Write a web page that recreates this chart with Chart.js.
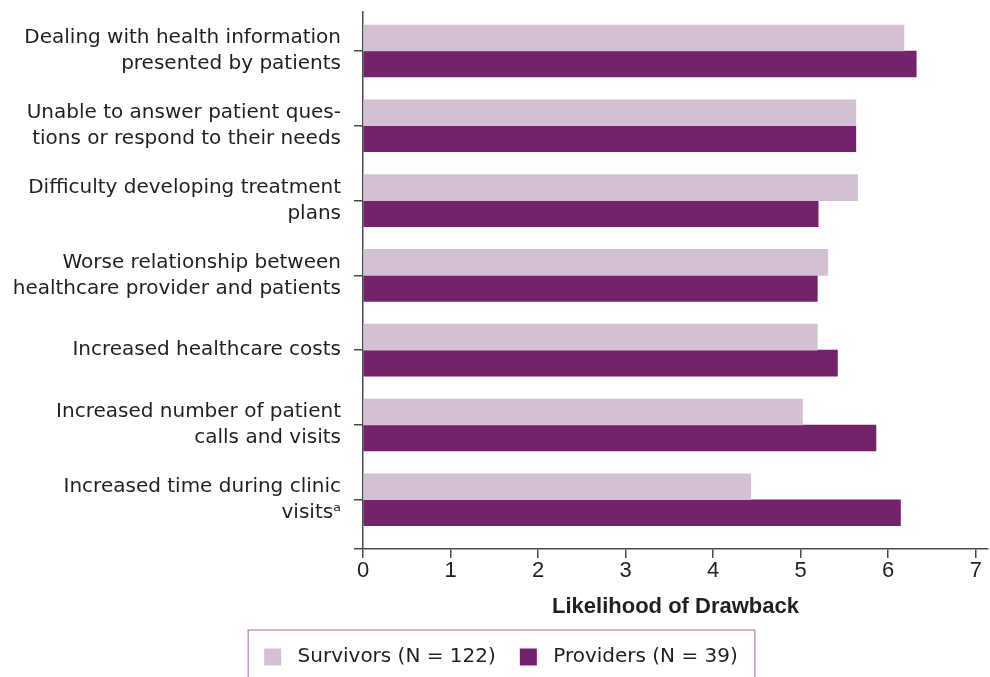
<!DOCTYPE html>
<html>
<head>
<meta charset="utf-8">
<script src="https://cdn.jsdelivr.net/npm/chart.js@4.4.1/dist/chart.umd.min.js"></script>
<style>
  body { margin: 0; background: #fff; }
  canvas { display: block; }
</style>
</head>
<body>
<canvas id="drawback-chart" width="990" height="677"></canvas>
<script>
// categories, top to bottom
const drawbacks = [
  ['Dealing with health information', 'presented by patients'],
  ['Unable to answer patient ques-', 'tions or respond to their needs'],
  ['Difficulty developing treatment', 'plans'],
  ['Worse relationship between', 'healthcare provider and patients'],
  ['Increased healthcare costs'],
  ['Increased number of patient', 'calls and visits'],
  ['Increased time during clinic', 'visits\u1D43']
];
const survivors = [6.18, 5.63, 5.65, 5.31, 5.19, 5.02, 4.43];
const providers = [6.32, 5.63, 5.20, 5.19, 5.42, 5.86, 6.14];
const xTicks = [0, 1, 2, 3, 4, 5, 6, 7];

const seriesNames = ['Survivors (N = 122)', 'Providers (N = 39)'];
const lightPurple = '#d3c0d2';
const darkPurple = '#74226b';
const ink = '#231f20';
const axisGrey = '#4a4a4a';

const Y_MIN = -0.521;
const Y_MAX = 6.658;

const toPoints = (vals) => vals.map((v, i) => ({ x: v, y: i }));

// box round the legend, open at the bottom like the original
const legendFrame = {
  id: 'legendFrame',
  afterDraw(chart) {
    const lg = chart.legend;
    if (!lg || !lg.legendHitBoxes.length) return;
    const boxes = lg.legendHitBoxes;
    const left = Math.min(...boxes.map(b => b.left)) - 16;
    const right = Math.max(...boxes.map(b => b.left + b.width)) + 17;
    const top = lg.top + 7;
    const ctx = chart.ctx;
    ctx.save();
    ctx.strokeStyle = '#c19bbd';
    ctx.lineWidth = 1.5;
    ctx.strokeRect(left, top, right - left, chart.height + 20 - top);
    ctx.restore();
  }
};

const ctx = document.getElementById('drawback-chart');
new Chart(ctx, {
  type: 'bar',
  data: {
    datasets: [{
      label: seriesNames[0],
      data: toPoints(survivors),
      backgroundColor: lightPurple,
      borderWidth: 0
    }, {
      label: seriesNames[1],
      data: toPoints(providers),
      backgroundColor: darkPurple,
      borderWidth: 0
    }]
  },
  options: {
    indexAxis: 'y',
    responsive: false,
    animation: false,
    devicePixelRatio: 1,
    barThickness: 26,
    layout: { padding: { top: 12, left: 14, right: 2 } },
    plugins: {
      tooltip: { enabled: false },
      legend: {
        position: 'bottom',
        labels: {
          color: ink,
          font: { family: 'DejaVu Sans', size: 20 },
          boxWidth: 17,
          boxHeight: 17,
          padding: 24,
          // a little more room between swatch and text, as in the original
          generateLabels: (chart) => Chart.defaults.plugins.legend.labels.generateLabels(chart)
            .map(item => Object.assign(item, { text: ' ' + item.text }))
        }
      }
    },
    scales: {
      x: {
        type: 'linear',
        min: 0,
        max: 7.14,
        afterBuildTicks: (scale) => { scale.ticks = xTicks.map(v => ({ value: v })); },
        afterFit: (scale) => { scale.height = 74; },
        grid: { drawOnChartArea: false, color: axisGrey, lineWidth: 1.5, tickLength: 9 },
        border: { color: axisGrey, width: 1.5 },
        ticks: {
          color: ink,
          font: { family: 'Liberation Sans', size: 22 },
          padding: 0,
          maxRotation: 0
        },
        title: {
          display: true,
          text: 'Likelihood of Drawback',
          color: ink,
          font: { family: 'Liberation Sans', size: 22, weight: 'bold' },
          padding: { top: 0, bottom: 3 }
        }
      },
      y: {
        type: 'linear',
        reverse: true,
        offset: false,
        min: Y_MIN,
        max: Y_MAX,
        afterBuildTicks: (scale) => {
          scale.ticks = drawbacks.map((_, i) => ({ value: i }));
          scale.ticks.push({ value: Y_MAX });
        },
        afterFit: (scale) => {
          scale.width = 349;
          scale.paddingTop = 0;
          scale.paddingBottom = 0;
        },
        grid: { offset: false, drawOnChartArea: false, color: axisGrey, lineWidth: 1.5, tickLength: 9 },
        border: { color: axisGrey, width: 1.5 },
        ticks: {
          color: ink,
          font: { family: 'DejaVu Sans', size: 20, lineHeight: 1.3 },
          padding: 13,
          autoSkip: false,
          callback: (value) => Number.isInteger(value) && drawbacks[value] ? drawbacks[value] : ''
        }
      }
    }
  },
  plugins: [legendFrame]
});
</script>
</body>
</html>
